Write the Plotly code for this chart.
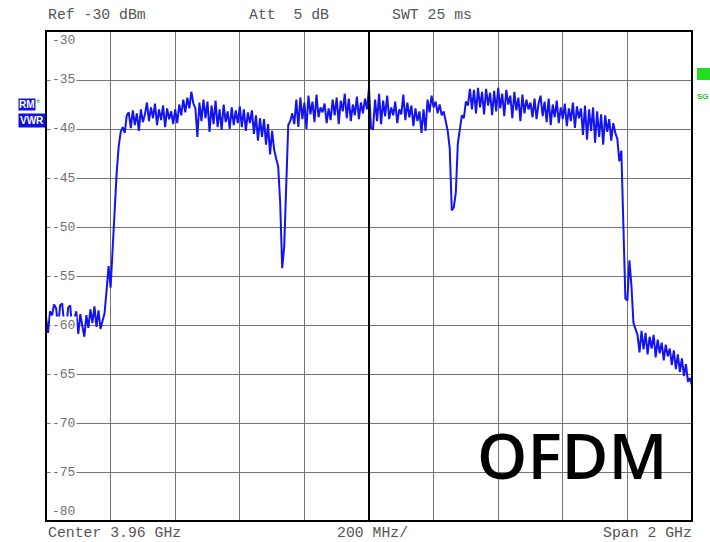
import numpy as np
import plotly.graph_objects as go

# Analyzer settings
center_ghz = 3.96
span_ghz = 2.0
div_mhz = 200
ref_dbm = -30
bottom_dbm = -80
db_per_div = 5

# Trace levels (dBm), one per sweep point, left to right
noise_floor_low = [-59.2, -60.8, -58.6, -59.0, -57.9, -58.3, -60.2, -58.0, -57.8, -59.9,
                   -60.4, -58.2, -58.0, -60.6, -59.4, -58.6, -60.9, -58.9, -60.1, -61.2,
                   -59.0, -60.3, -58.4, -59.8, -58.1, -60.2, -58.5, -60.4, -59.6]
rising_edge = [-58.8, -56.5, -54.0, -56.2, -52.0, -48.5, -44.5, -41.8, -40.3, -39.8, -40.4, -38.6]
band_a = [-38.3, -39.9, -38.1, -39.6, -38.4, -40.2, -38.0, -39.3, -38.5,
          -37.3, -39.2, -37.8, -38.9, -37.4, -39.6, -38.0, -39.1, -37.6, -39.8, -37.9, -39.0, -38.2, -39.5,
          -38.0, -39.4, -37.5, -38.6, -37.0, -38.3, -36.8, -37.9, -36.2, -37.4, -37.9, -40.8, -37.3, -39.2, -37.0,
          -38.9, -37.2, -40.3, -37.6, -39.5, -37.1, -39.8, -38.0, -40.1, -37.5, -39.3, -38.2, -40.0, -37.8,
          -39.6, -38.1, -39.4,
          -37.7, -39.8, -38.0, -40.2, -38.3, -39.4, -38.1, -40.5, -38.6, -41.2, -38.9, -40.8, -39.0, -41.6,
          -39.5, -42.6, -40.2, -42.1]
notch_a = [-43.0, -43.8, -47.5, -54.2, -52.0, -44.5, -39.6]
band_b = [-39.2, -38.4, -39.5, -37.0, -39.8, -36.8, -39.0, -37.3, -40.0, -36.6,
          -38.5, -37.2, -39.3, -36.5, -38.8, -37.8, -38.3, -37.4, -39.4, -37.9,
          -39.1, -37.0, -38.6, -36.8, -39.5, -37.1, -38.2, -36.4, -38.9, -36.9,
          -39.2, -37.5, -38.6, -36.7, -39.0, -37.3, -38.4, -36.9, -38.0, -35.8]
band_c = [-39.9, -40.0, -37.0, -39.2, -36.4, -39.5, -37.1, -38.7, -36.6, -39.0,
          -37.8, -38.6, -37.2, -39.4, -38.0, -38.5, -36.5, -39.1, -37.3, -38.8,
          -37.6, -39.7, -37.9, -39.2, -38.2, -40.4, -38.0, -40.2,
          -37.0, -38.3, -36.6, -37.8, -37.2, -38.4, -37.5, -38.6, -38.2, -39.3, -40.2]
notch_b = [-42.0, -48.3, -48.0, -46.5, -41.5, -39.8, -38.6, -38.9, -37.2, -37.6]
band_d = [-35.9, -38.0, -36.0, -38.4, -35.8, -37.8, -36.2, -38.5, -35.9, -37.6,
          -36.3, -38.6, -36.1, -38.2, -35.8, -37.9, -36.4, -38.7, -36.0, -37.5,
          -36.6, -38.9, -36.2, -38.1, -36.8, -39.2, -36.5, -38.4, -37.0, -38.0,
          -37.3, -38.8, -36.9, -39.0, -37.4,
          -36.6, -38.7, -37.2, -39.3, -36.9, -39.6, -37.5, -38.8, -37.1, -39.4,
          -37.8, -39.0, -37.4, -39.7, -37.9, -39.2, -37.3, -39.9, -37.7, -38.9,
          -37.9, -40.6, -37.6, -41.1, -38.0, -40.2, -37.8, -41.4, -38.2, -40.8,
          -38.5, -41.6, -38.6, -40.3, -39.0, -41.2, -39.4, -40.4]
falling_edge = [-41.0, -43.3, -42.2, -49.0, -57.3, -57.5, -53.4, -56.0, -59.8, -60.4]
noise_floor_high = [-61.0, -62.8, -60.6, -62.5, -60.8, -63.0, -61.2, -62.4, -61.0, -63.3,
                    -61.5, -62.9, -61.8, -63.6, -62.0, -63.2, -62.4, -64.1, -62.6, -64.5,
                    -63.0, -64.8, -63.4, -65.2, -64.0, -65.8, -65.4, -66.2]

levels = (noise_floor_low + rising_edge + band_a + notch_a + band_b + band_c
          + notch_b + band_d + falling_edge + noise_floor_high)

f_start = center_ghz - span_ghz / 2
f_stop = center_ghz + span_ghz / 2
freqs = np.linspace(f_start, f_stop, len(levels))

level_ticks = [-30, -35, -40, -45, -50, -55, -60, -65, -70, -75, -80]

header_texts = [("Ref -30 dBm", 46), ("Att  5 dB", 247), ("SWT 25 ms", 390)]
footer_texts = [("Center 3.96 GHz", 47, "left"), ("200 MHz/", 336, "left"), ("Span 2 GHz", 693, "right")]

W, H = 710, 542
ML, MR, MT, MB = 46, 18, 31, 21
PW, PH = W - ML - MR, H - MT - MB

def px_x(px):
    return (px - ML) / PW

def px_y(py):
    return (H - MB - py) / PH

MONO = "Liberation Mono, Courier New, monospace"
GRID = "#747474"

fig = go.Figure()
fig.add_trace(go.Scatter(
    x=freqs, y=levels, mode="lines",
    line=dict(color="#1414f0", width=2),
    hoverinfo="skip", showlegend=False,
))

fig.update_layout(
    width=W, height=H,
    margin=dict(l=ML, r=MR, t=MT, b=MB),
    plot_bgcolor="white", paper_bgcolor="white",
    showlegend=False,
)
fig.update_xaxes(
    range=[f_start, f_stop], tick0=f_start, dtick=div_mhz / 1000,
    showgrid=True, gridcolor=GRID, gridwidth=1,
    showticklabels=False, ticks="", zeroline=False, showline=False,
)
fig.update_yaxes(
    range=[bottom_dbm, ref_dbm], tick0=bottom_dbm, dtick=db_per_div,
    showgrid=True, gridcolor=GRID, gridwidth=1,
    showticklabels=False, ticks="", zeroline=False, showline=False,
)

# centre-frequency line and outer frame
fig.add_shape(type="line", xref="x", yref="paper", x0=center_ghz, x1=center_ghz, y0=0, y1=1,
              line=dict(color="black", width=2))
fig.add_shape(type="rect", xref="paper", yref="paper", x0=0, x1=1, y0=0, y1=1,
              line=dict(color="black", width=2))

# level labels drawn inside the grid
for v in level_ticks:
    if v == ref_dbm:
        yy, bg = px_y(40), "rgba(0,0,0,0)"
    elif v == bottom_dbm:
        yy, bg = px_y(511), "rgba(0,0,0,0)"
    else:
        yy, bg = (v - bottom_dbm) / (ref_dbm - bottom_dbm), "white"
    fig.add_annotation(xref="paper", yref="paper", x=px_x(63), y=yy, text=str(v),
                       showarrow=False, xanchor="center", yanchor="middle",
                       bgcolor=bg, borderpad=1,
                       font=dict(family=MONO, size=13, color="#707070"))

for txt, x0 in header_texts:
    fig.add_annotation(xref="paper", yref="paper", x=px_x(x0), y=px_y(15), text=txt.replace(" ", "&nbsp;"),
                       showarrow=False, xanchor="left", yanchor="middle",
                       font=dict(family=MONO, size=14.8, color="#555555"))
for txt, x0, anchor in footer_texts:
    fig.add_annotation(xref="paper", yref="paper", x=px_x(x0), y=px_y(542), text=txt.replace(" ", "&nbsp;"),
                       showarrow=False, xanchor=anchor, yanchor="bottom", borderpad=0,
                       font=dict(family=MONO, size=14.8, color="#555555"))

# trace badges at the left edge
fig.add_annotation(xref="paper", yref="paper", x=px_x(18), y=px_y(104), text="<b>RM</b>",
                   showarrow=False, xanchor="left", yanchor="middle", bgcolor="#1010e0", borderpad=0,
                   font=dict(family="Liberation Sans, Arial", size=10, color="white"))
fig.add_annotation(xref="paper", yref="paper", x=px_x(38), y=px_y(103), text="*",
                   showarrow=False, xanchor="center", yanchor="middle",
                   font=dict(family="Liberation Sans, Arial", size=11, color="#33cc33"))
fig.add_annotation(xref="paper", yref="paper", x=px_x(18), y=px_y(121), text="<b>VWR</b>",
                   showarrow=False, xanchor="left", yanchor="middle", bgcolor="#1010e0", borderpad=1,
                   font=dict(family="Liberation Sans, Arial", size=10, color="white"))

# status badges at the right edge
fig.add_shape(type="rect", xref="paper", yref="paper", x0=px_x(697), x1=px_x(711), y0=px_y(80), y1=px_y(68),
              line=dict(width=0), fillcolor="#22dd22")
fig.add_annotation(xref="paper", yref="paper", x=px_x(696), y=px_y(96), text="<b>SG</b>",
                   showarrow=False, xanchor="left", yanchor="middle", borderpad=0,
                   font=dict(family="Liberation Sans, Arial", size=8, color="#33bb33"))

# modulation caption
fig.add_annotation(xref="paper", yref="paper", x=px_x(571.5), y=px_y(454), text="OFDM",
                   showarrow=False, xanchor="center", yanchor="middle",
                   font=dict(family="Open Sans, Noto Sans, sans-serif", size=64, color="black",
                             weight=600))

fig.write_html("out.html")
